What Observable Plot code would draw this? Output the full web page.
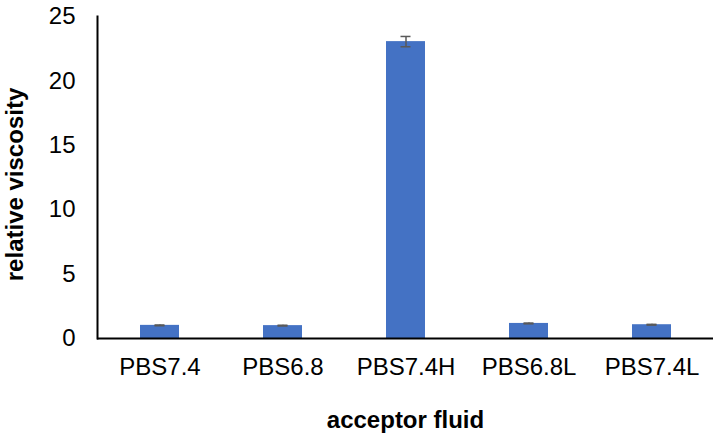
<!DOCTYPE html>
<html>
<head>
<meta charset="utf-8">
<script src="https://cdn.jsdelivr.net/npm/d3@7"></script>
<script src="https://cdn.jsdelivr.net/npm/@observablehq/plot@0.6"></script>
<style>
  html, body { margin: 0; padding: 0; background: #fff; }
</style>
</head>
<body>
<div id="chart"></div>
<script>
const categories = ["PBS7.4", "PBS6.8", "PBS7.4H", "PBS6.8L", "PBS7.4L"];
const viscosity = [1.02, 1.0, 23.05, 1.17, 1.07];
const errors = [0.03, 0.03, 0.4, 0.03, 0.03];
const yTicks = [0, 5, 10, 15, 20, 25];
const xTitle = "acceptor fluid";
const yTitle = "relative viscosity";

const data = categories.map((c, i) => ({
  cat: c, v: viscosity[i], lo: viscosity[i] - errors[i], hi: viscosity[i] + errors[i]
}));

const plot = Plot.plot({
  width: 719,
  height: 438,
  marginLeft: 97,
  marginRight: 6,
  marginTop: 16,
  marginBottom: 100,
  style: { fontSize: "24px", fontFamily: "'Liberation Sans', Arial, sans-serif", color: "#000", background: "#fff" },
  x: { domain: categories, padding: 0, label: null },
  y: { domain: [0, 25], label: null },
  marks: [
    Plot.barY(data, { x: "cat", y: "v", fill: "#4472C4", insetLeft: 42, insetRight: 42 }),
    Plot.ruleX(data, { x: "cat", y1: "lo", y2: "hi", stroke: "#595959", strokeWidth: 1.5 }),
    Plot.tickY(data, { x: "cat", y: "lo", stroke: "#595959", strokeWidth: 1.5, insetLeft: 56.5, insetRight: 56.5 }),
    Plot.tickY(data, { x: "cat", y: "hi", stroke: "#595959", strokeWidth: 1.5, insetLeft: 56.5, insetRight: 56.5 }),
    Plot.frame({ anchor: "left", stroke: "#000", strokeWidth: 2 }),
    Plot.ruleY([0], { stroke: "#000", strokeWidth: 2 }),
    Plot.axisY({ ticks: yTicks, tickSize: 0, tickPadding: 22, label: null, fill: "#000" }),
    Plot.axisX({ tickSize: 0, tickPadding: 19, label: null, fill: "#000" }),
    Plot.text([yTitle], { frameAnchor: "left", text: d => d, rotate: -90, dx: -82, dy: 7, textAnchor: "middle", lineAnchor: "middle", fontWeight: "bold", fill: "#000" }),
    Plot.text([xTitle], { frameAnchor: "bottom", text: d => d, dy: 82, textAnchor: "middle", fontWeight: "bold", fill: "#000", lineAnchor: "middle" })
  ]
});
document.getElementById("chart").appendChild(plot);
</script>
</body>
</html>
